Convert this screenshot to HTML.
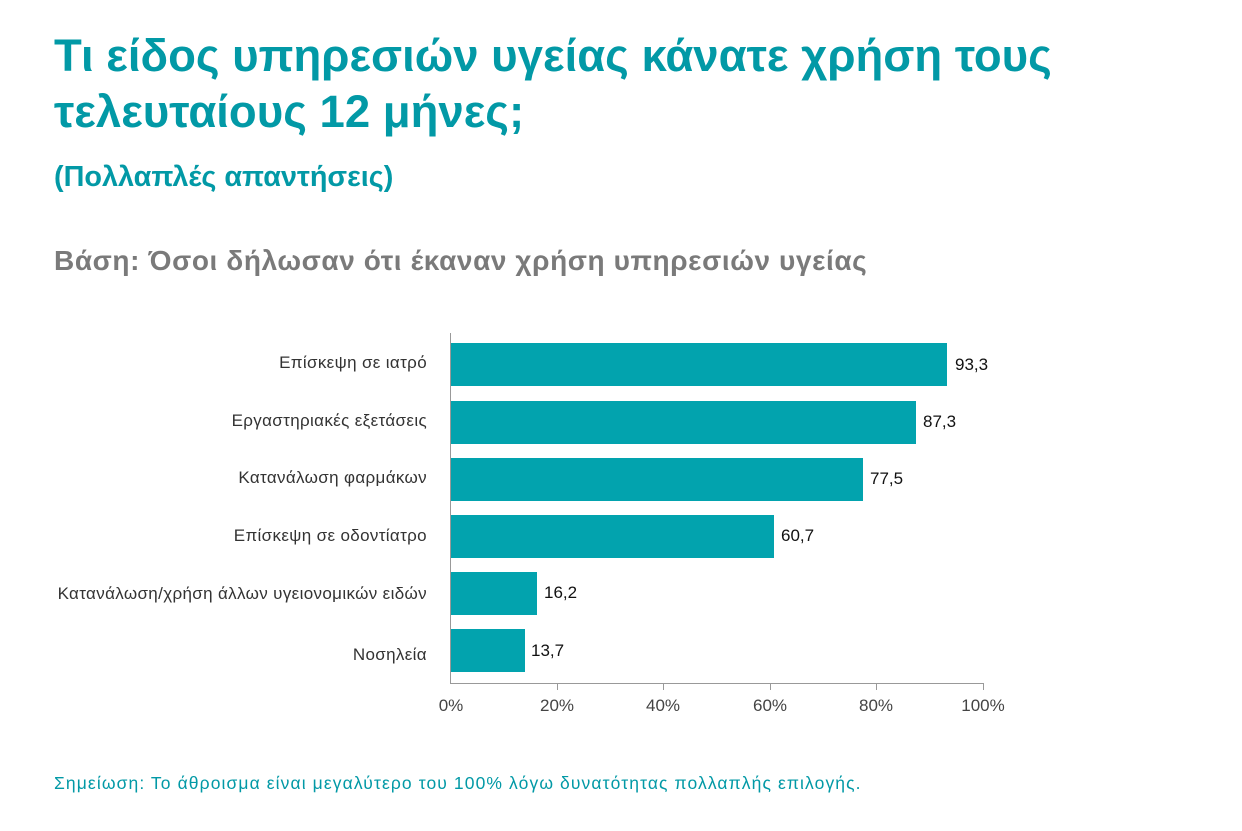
<!DOCTYPE html>
<html><head><meta charset="utf-8"><style>
body{margin:0;width:1242px;height:831px;background:#fff;font-family:"Liberation Sans",sans-serif;position:relative;overflow:hidden}
.t{position:absolute;white-space:nowrap}
.h{color:#0299a6;font-weight:bold}
.lab{position:absolute;right:815px;font-size:17px;letter-spacing:0.35px;color:#333;white-space:nowrap;line-height:20px}
.bar{position:absolute;left:451px;height:43px;background:#02a3ae}
.val{position:absolute;font-size:17px;color:#111;line-height:20px}
.tk{position:absolute;top:696px;font-size:17px;color:#444;width:60px;text-align:center;line-height:20px}
</style></head><body>
<div class="t h" style="left:54px;top:29px;font-size:45.5px;line-height:54px">Τι είδος υπηρεσιών υγείας κάνατε χρήση τους</div>
<div class="t h" style="left:54px;top:85px;font-size:45.5px;line-height:54px">τελευταίους 12 μήνες;</div>
<div class="t h" style="left:54px;top:160px;font-size:28.8px;line-height:34px">(Πολλαπλές απαντήσεις)</div>
<div class="t" style="left:54px;top:244px;font-size:28px;letter-spacing:0.6px;line-height:34px;color:#7a7a7a;font-weight:bold">Βάση: Όσοι δήλωσαν ότι έκαναν χρήση υπηρεσιών υγείας</div>

<div style="position:absolute;left:450px;top:333px;width:1px;height:351px;background:#999"></div>
<div style="position:absolute;left:450px;top:683px;width:534px;height:1px;background:#999"></div>
<div style="position:absolute;left:557px;top:683px;width:1px;height:7px;background:#999"></div>
<div style="position:absolute;left:663px;top:683px;width:1px;height:7px;background:#999"></div>
<div style="position:absolute;left:770px;top:683px;width:1px;height:7px;background:#999"></div>
<div style="position:absolute;left:876px;top:683px;width:1px;height:7px;background:#999"></div>
<div style="position:absolute;left:983px;top:683px;width:1px;height:7px;background:#999"></div>

<div class="bar" style="top:343px;width:496px"></div>
<div class="bar" style="top:401px;width:465px"></div>
<div class="bar" style="top:458px;width:412px"></div>
<div class="bar" style="top:515px;width:323px"></div>
<div class="bar" style="top:572px;width:86px"></div>
<div class="bar" style="top:629px;width:74px"></div>

<div class="val" style="left:955px;top:355px">93,3</div>
<div class="val" style="left:923px;top:412px">87,3</div>
<div class="val" style="left:870px;top:469px">77,5</div>
<div class="val" style="left:781px;top:526px">60,7</div>
<div class="val" style="left:544px;top:583px">16,2</div>
<div class="val" style="left:531px;top:641px">13,7</div>

<div class="lab" style="top:353px">Επίσκεψη σε ιατρό</div>
<div class="lab" style="top:411px">Εργαστηριακές εξετάσεις</div>
<div class="lab" style="top:468px">Κατανάλωση φαρμάκων</div>
<div class="lab" style="top:526px">Επίσκεψη σε οδοντίατρο</div>
<div class="lab" style="top:584px">Κατανάλωση/χρήση άλλων υγειονομικών ειδών</div>
<div class="lab" style="top:645px">Νοσηλεία</div>

<div class="tk" style="left:421px">0%</div>
<div class="tk" style="left:527px">20%</div>
<div class="tk" style="left:633px">40%</div>
<div class="tk" style="left:740px">60%</div>
<div class="tk" style="left:846px">80%</div>
<div class="tk" style="left:953px">100%</div>

<div class="t" style="left:54px;top:773px;font-size:17.5px;letter-spacing:1.1px;line-height:20px;color:#0299a6">Σημείωση: Το άθροισμα είναι μεγαλύτερο του 100% λόγω δυνατότητας πολλαπλής επιλογής.</div>
</body></html>
